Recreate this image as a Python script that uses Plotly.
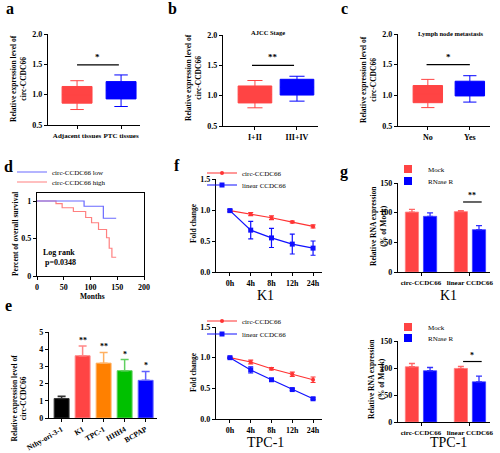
import plotly.graph_objects as go

W, H = 500, 453
SERIF = "Liberation Serif"
RED = "#FF4444"
BLUE = "#0000FF"

# ---------------- data ----------------
# a
a_cats = ["Adjacent tissues", "PTC tissues"]
a_q1 = [0.86, 0.93]
a_med = [1.00, 1.07]
a_q3 = [1.135, 1.215]
a_lo = [0.755, 0.805]
a_hi = [1.23, 1.325]
# b
b_cats = ["I+II", "III+IV"]
b_q1 = [0.88, 1.01]
b_med = [1.02, 1.14]
b_q3 = [1.16, 1.27]
b_lo = [0.80, 0.91]
b_hi = [1.25, 1.32]
# c
c_cats = ["No", "Yes"]
c_q1 = [0.88, 0.99]
c_med = [1.02, 1.11]
c_q3 = [1.16, 1.23]
c_lo = [0.80, 0.89]
c_hi = [1.26, 1.32]
# d survival
low_months = [0, 88, 124, 148]
low_surv = [1.0, 0.93, 0.77, 0.77]
high_months = [0, 35.5, 47, 68, 91, 102, 115, 130, 135, 140, 148]
high_surv = [1.0, 0.965, 0.91, 0.86, 0.78, 0.71, 0.62, 0.51, 0.37, 0.25, 0.25]
# e
e_cells = ["Nthy-ori-3-1", "K1", "TPC-1", "HHH4", "BCPAP"]
e_vals = [1.13, 3.62, 3.19, 2.75, 2.19]
e_err = [0.13, 0.57, 0.62, 0.65, 0.52]
e_stars = ["", "**", "**", "*", "*"]
e_colors = ["#000000", "#FF4444", "#FF8000", "#00C000", "#0000FF"]
e_errcolors = ["#333333", "#FF8888", "#FFB060", "#60D060", "#6060FF"]
# f
times = ["0h", "4h", "8h", "12h", "24h"]
circ_k1 = [0.99, 0.935, 0.875, 0.805, 0.735]
circ_k1_err = [0.01, 0.025, 0.03, 0.015, 0.025]
lin_k1 = [0.99, 0.675, 0.55, 0.45, 0.385]
lin_k1_err = [0.02, 0.14, 0.155, 0.16, 0.115]
circ_tpc = [1.0, 0.93, 0.82, 0.73, 0.64]
circ_tpc_err = [0.01, 0.03, 0.02, 0.035, 0.045]
lin_tpc = [1.0, 0.80, 0.64, 0.48, 0.33]
lin_tpc_err = [0.01, 0.05, 0.015, 0.015, 0.015]
# g
g_groups = ["circ-CCDC66", "linear CCDC66"]
mock_k1 = [101, 101.7]
mock_k1_err = [4.5, 1.5]
rnase_k1 = [93.8, 71.3]
rnase_k1_err = [6, 6.7]
mock_tpc = [102.3, 99.2]
mock_tpc_err = [6, 3.7]
rnase_tpc = [94.9, 74.4]
rnase_tpc_err = [6, 10.5]


def fx(p):
    return p / W


def fy(p):
    return 1 - p / H


def tickfont(size=8):
    return dict(family=SERIF, size=size, color="black", weight="bold")


def base_axis(**kw):
    d = dict(showline=True, linecolor="black", linewidth=1.2, ticks="outside",
             ticklen=3, tickwidth=1, tickcolor="black", showgrid=False,
             zeroline=False, tickfont=tickfont(), fixedrange=True,
             automargin=False, tickangle=0)
    d.update(kw)
    return d


def ptext(text, x, y, size, bold=True, angle=0):
    f = dict(family=SERIF, size=size, color="black")
    if bold:
        f["weight"] = "bold"
    return dict(text=text, x=fx(x), y=fy(y), xref="paper", yref="paper", showarrow=False,
                xanchor="center", yanchor="middle", textangle=angle, font=f)


fig = go.Figure()
layout = {}
annotations = []
shapes = []

# ---------- box panels a, b, c ----------
box_panels = [
    ("", (a_cats, a_q1, a_med, a_q3, a_lo, a_hi), (48, 140, 34, 125), (-0.66, 1.43), 0.68, (0, 0.95, 1.49), 7),
    ("2", (b_cats, b_q1, b_med, b_q3, b_lo, b_hi), (223, 318, 35, 126), (-0.76, 1.5), 0.8, (-0.07, 0.93, 1.5), 8),
    ("3", (c_cats, c_q1, c_med, c_q3, c_lo, c_hi), (398, 490, 34, 126), (-0.71, 1.48), 0.7, (-0.03, 1.0, 1.5), 8),
]
box_stars = ["*", "**", "*"]
for k, (sfx, (cats, q1, med, q3, lo, hi), (x0, x1, y0, y1), xr, bw, sig, tfs) in enumerate(box_panels):
    xa, ya = "x" + sfx, "y" + sfx
    for i, cat in enumerate(cats):
        col = RED if i == 0 else BLUE
        fig.add_trace(go.Box(x=[cat], q1=[q1[i]], median=[med[i]], q3=[q3[i]],
                             lowerfence=[lo[i]], upperfence=[hi[i]],
                             fillcolor=col, line=dict(color=col, width=1),
                             width=bw, whiskerwidth=0.45, boxpoints=False,
                             showlegend=False, xaxis=xa, yaxis=ya))
    layout["xaxis" + sfx] = base_axis(domain=[fx(x0), fx(x1)], anchor=ya, range=list(xr),
                                      type="category", tickfont=tickfont(tfs))
    layout["yaxis" + sfx] = base_axis(domain=[fy(y1), fy(y0)], anchor=xa, range=[0.5, 2.0],
                                      tickvals=[0.5, 1.0, 1.5, 2.0], tickformat=".1f")
    shapes.append(dict(type="line", xref=xa, yref=ya, x0=sig[0], x1=sig[1], y0=sig[2], y1=sig[2],
                       line=dict(color="black", width=1.2)))
    annotations.append(dict(text=box_stars[k], xref=xa, yref=ya, x=(sig[0] + sig[1]) / 2, y=sig[2],
                            xanchor="center", yanchor="bottom", yshift=1, showarrow=False,
                            font=dict(family=SERIF, size=9, color="black", weight="bold")))

# titles b, c
annotations.append(ptext("AJCC Stage", 268, 32, 6.5))
annotations.append(ptext("Lymph node metastasis", 450, 33, 6.5))

# ---------- d survival ----------
fig.add_trace(go.Scatter(x=high_months, y=high_surv, mode="lines", line=dict(color="#FF8080", width=1.2, shape="hv"),
                         name="circ-CCDC66 high", xaxis="x4", yaxis="y4", legend="legend2"))
fig.add_trace(go.Scatter(x=low_months, y=low_surv, mode="lines", line=dict(color="#6A6AFF", width=1.2, shape="hv"),
                         name="circ-CCDC66 low", xaxis="x4", yaxis="y4", legend="legend"))
layout["xaxis4"] = base_axis(domain=[fx(37), fx(144)], anchor="y4", range=[0, 200],
                             tickvals=[0, 50, 100, 150, 200], mirror=True)
layout["yaxis4"] = base_axis(domain=[fy(276), fy(193)], anchor="x4", range=[0, 1.107],
                             tickvals=[0, 0.5, 1], ticktext=["0", "0.5", "1"], mirror=True)
lr = ptext("Log rank<br> p=0.0348", 59, 257, 8)
lr["align"] = "left"
annotations.append(lr)
annotations.append(ptext("Months", 92, 296, 7.5))

# ---------- e bars ----------
for i, cell in enumerate(e_cells):
    fig.add_trace(go.Bar(x=[cell], y=[e_vals[i]], width=0.71,
                         marker=dict(color=e_colors[i], line=dict(color=e_errcolors[i], width=1)),
                         error_y=dict(type="data", array=[e_err[i]], arrayminus=[0], symmetric=False,
                                      color=e_errcolors[i], thickness=1.5, width=4),
                         showlegend=False, xaxis="x5", yaxis="y5"))
    if e_stars[i]:
        annotations.append(dict(text=e_stars[i], xref="x5", yref="y5", x=cell, y=e_vals[i] + e_err[i],
                                xanchor="center", yanchor="bottom", yshift=-1, showarrow=False,
                                font=dict(family=SERIF, size=8, color="black", weight="bold")))
layout["xaxis5"] = base_axis(domain=[fx(49), fx(157)], anchor="y5", range=[-0.6, 4.54], type="category",
                             tickangle=-30, tickfont=tickfont(7.5))
layout["yaxis5"] = base_axis(domain=[fy(418), fy(332)], anchor="x5", range=[0, 5], dtick=1)

# ---------- f lines ----------
f_panels = [("6", circ_k1, circ_k1_err, lin_k1, lin_k1_err, (179, 272), ("legend3", "legend4"), "K1", 295),
            ("7", circ_tpc, circ_tpc_err, lin_tpc, lin_tpc_err, (327, 419), ("legend5", "legend6"), "TPC-1", 442)]
for sfx, cv, ce, lv, le, (y0, y1), legs, lab, laby in f_panels:
    xa, ya = "x" + sfx, "y" + sfx
    fig.add_trace(go.Scatter(x=times, y=cv, mode="lines+markers", name="circ-CCDC66",
                             line=dict(color="#FF3333", width=1.2), marker=dict(symbol="circle", size=4, color="#FF3333"),
                             error_y=dict(type="data", array=ce, color="#FF3333", thickness=1.2, width=2.5),
                             xaxis=xa, yaxis=ya, legend=legs[0]))
    fig.add_trace(go.Scatter(x=times, y=lv, mode="lines+markers", name="linear CCDC66",
                             line=dict(color="#1010FF", width=1.2), marker=dict(symbol="square", size=5, color="#1010FF"),
                             error_y=dict(type="data", array=le, color="#1010FF", thickness=1.2, width=2.5),
                             xaxis=xa, yaxis=ya, legend=legs[1]))
    layout["xaxis" + sfx] = base_axis(domain=[fx(216), fx(322)], anchor=ya, range=[-0.67, 4.43], type="category")
    layout["yaxis" + sfx] = base_axis(domain=[fy(y1), fy(y0)], anchor=xa, range=[0, 1.5], dtick=0.5, tickformat=".1f")
    annotations.append(ptext(lab, 265, laby, 14, bold=False))

# ---------- g bars ----------
g_panels = [("8", mock_k1, mock_k1_err, rnase_k1, rnase_k1_err, (183, 272), ("legend7", "legend8"), "K1", 295, "**", 118),
            ("9", mock_tpc, mock_tpc_err, rnase_tpc, rnase_tpc_err, (341, 422), ("legend9", "legend10"), "TPC-1", 442, "*", 112)]
for sfx, mv, me, rv, re_, (y0, y1), legs, lab, laby, star, sy in g_panels:
    xa, ya = "x" + sfx, "y" + sfx
    fig.add_trace(go.Bar(x=g_groups, y=mv, offset=-0.32, width=0.27, name="Mock", showlegend=False,
                         marker=dict(color=RED, line=dict(color="#FF8080", width=0.8)),
                         error_y=dict(type="data", array=me, arrayminus=[0, 0], symmetric=False,
                                      color="#FF6666", thickness=1.3, width=3),
                         xaxis=xa, yaxis=ya))
    fig.add_trace(go.Bar(x=g_groups, y=rv, offset=0.05, width=0.27, name="RNase R", showlegend=False,
                         marker=dict(color=BLUE, line=dict(color="#4040FF", width=0.8)),
                         error_y=dict(type="data", array=re_, arrayminus=[0, 0], symmetric=False,
                                      color="#3030FF", thickness=1.3, width=3),
                         xaxis=xa, yaxis=ya))
    # legend entries (swatches only)
    for nm, col, lg in (("Mock", RED, legs[0]), ("RNase R", BLUE, legs[1])):
        fig.add_trace(go.Scatter(x=[None], y=[None], mode="markers", name=nm,
                                 marker=dict(symbol="square", size=8, color=col),
                                 xaxis=xa, yaxis=ya, legend=lg))
    layout["xaxis" + sfx] = base_axis(domain=[fx(398), fx(490)], anchor=ya, range=[-0.47, 1.41], type="category",
                                      tickfont=tickfont(7))
    layout["yaxis" + sfx] = base_axis(domain=[fy(y1), fy(y0)], anchor=xa, range=[0, 150], dtick=50)
    shapes.append(dict(type="line", xref=xa, yref=ya, x0=0.86, x1=1.24, y0=sy, y1=sy,
                       line=dict(color="black", width=1.2)))
    annotations.append(dict(text=star, xref=xa, yref=ya, x=1.05, y=sy, xanchor="center", yanchor="bottom",
                            yshift=0, showarrow=False,
                            font=dict(family=SERIF, size=8, color="black", weight="bold")))
    annotations.append(ptext(lab, 448, laby, 14, bold=False))

# ---------- y-axis titles ----------
ytitles = [
    ("Relative expression level of<br>circ-CCDC66", 18, 79),
    ("Relative expression level of<br>circ-CCDC66", 193, 78),
    ("Relative expression level of<br>circ-CCDC66", 368, 80),
    ("Percent of overall survival", 15, 234),
    ("Relative expression level of<br>circ-CCDC66", 18.5, 398),
    ("Fold change", 193, 223),
    ("Fold change", 193, 372),
    ("Relative RNA expression<br>(% of Mock)", 378, 226),
    ("Relative RNA expression<br>(% of Mock)", 376, 379),
]
for t, x, y in ytitles:
    annotations.append(ptext(t, x, y, 7.5, angle=-90))

# ---------- panel letters ----------
letters = [("a", 10, 9), ("b", 172, 9), ("c", 344, 9), ("d", 8, 166), ("e", 8, 305), ("f", 177, 165), ("g", 344, 172)]
for t, x, y in letters:
    annotations.append(ptext(t, x, y, 16))

# ---------- legends (one item each, placed by item centre) ----------
leg_font = dict(family=SERIF, size=7, color="black")
legend_pos = {
    "legend": (12, 172), "legend2": (12, 182),
    "legend3": (202, 173), "legend4": (202, 185),
    "legend5": (202, 321), "legend6": (202, 334),
    "legend7": (388, 169), "legend8": (388, 181),
    "legend9": (388, 327), "legend10": (388, 338),
}
for name, (lx, ly) in legend_pos.items():
    layout[name] = dict(x=fx(lx), y=fy(ly), xanchor="left", yanchor="middle", bgcolor="rgba(0,0,0,0)",
                        font=leg_font, itemwidth=30, borderwidth=0)

fig.update_layout(width=W, height=H, margin=dict(l=0, r=0, t=0, b=0), paper_bgcolor="white",
                  plot_bgcolor="white", barmode="overlay", boxmode="overlay",
                  annotations=annotations, shapes=shapes, **layout)
fig.write_html("out.html", config={"displayModeBar": False},
               post_script="document.body.style.margin='0px';")
